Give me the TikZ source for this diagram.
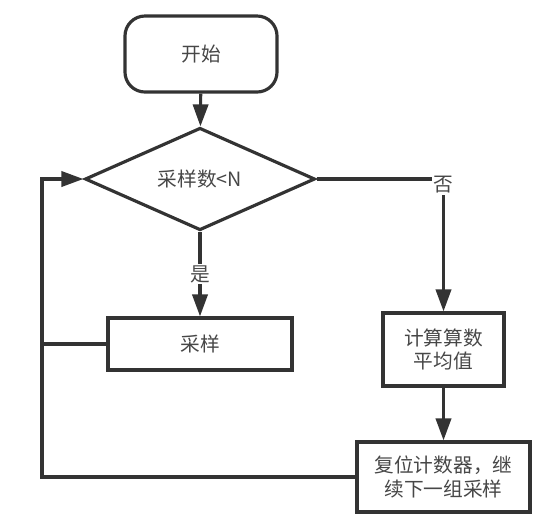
\documentclass[tikz,border=0pt]{standalone}
\usepackage{fontspec}
\usepackage{tikz}
\usetikzlibrary{shapes.geometric}
\usetikzlibrary{arrows.meta}
\newfontfamily\cjk{Noto Sans CJK SC}
\definecolor{ink}{HTML}{333333}

\begin{document}
\begin{tikzpicture}[x=0.025cm, y=-0.025cm,
        every node/.style={font=\cjk\fontsize{14}{17}\selectfont, text=ink!90},
        box/.style={draw=ink, line width=2.25pt, fill=white, align=center},
        terminal/.style={box, rounded corners=0.5cm, minimum width=3.8cm, minimum height=1.9cm},
        decision/.style={box, diamond, minimum width=5.75cm, minimum height=1.925cm, inner sep=0pt},
        line/.style={draw=ink, line width=2.25pt},
        arrow/.style={line, -{Triangle[length=0.55cm, width=0.38cm]}},
        lbl/.style={fill=white, inner sep=1pt}
    ]
        \useasboundingbox (0,0) rectangle (543,529);

        \node[terminal] (start) at (201,54) {开始};
        \node[decision] (dec) at (200,179) {采样数<N};
        \node[box, minimum width=4.6cm, minimum height=1.3cm] (sample) at (200,344) {采样};
        \node[box, minimum width=3.025cm, minimum height=1.825cm] (avg) at (443.5,349.5) {计算算数\\平均值};
        \node[box, minimum width=4.325cm, minimum height=1.75cm] (reset) at (443.5,477) {复位计数器，继\\续下一组采样};
        \coordinate (loop) at (42,179);

        \draw[arrow] (start) -- (dec);
        \draw[arrow] (dec) -- node[lbl] {是} (sample);
        \draw[arrow] (dec.east) -| node[lbl, pos=0.5, yshift=-0.15cm] {否} (avg.north);
        \draw[arrow] (avg.south) -- (avg.south |- reset.north);
        \draw[line] (sample.west) -- (sample.west -| loop);
        \draw[arrow] (reset.west) -| (loop) -- (dec.west);
    \end{tikzpicture}
\end{document}
